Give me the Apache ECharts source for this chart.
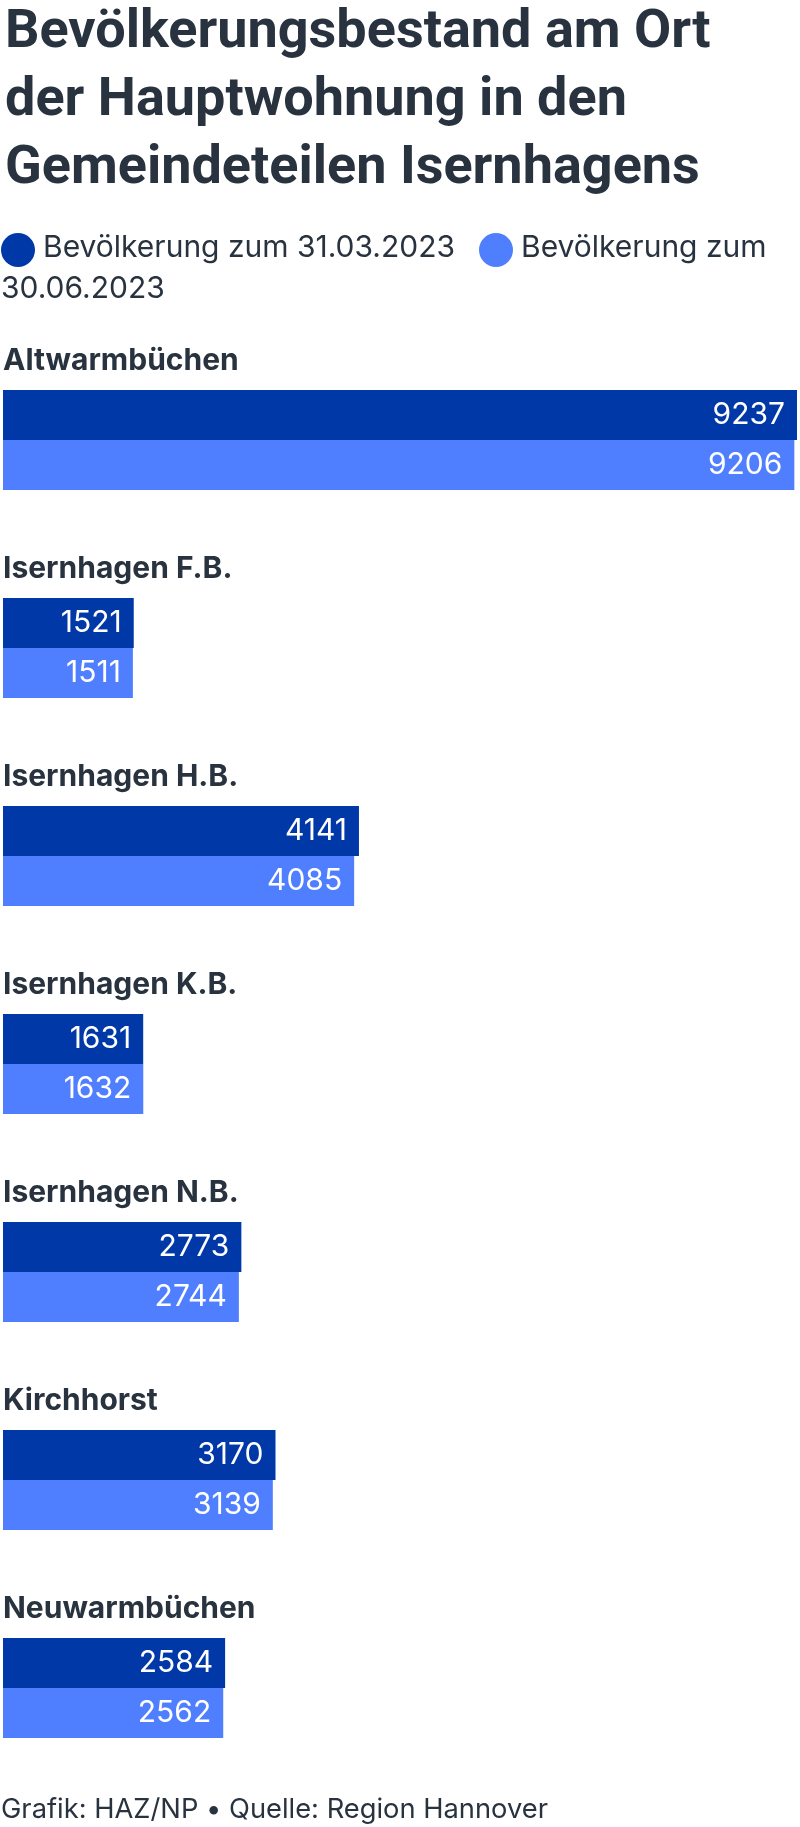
<!DOCTYPE html>
<html>
<head>
<meta charset="utf-8">
<script src="https://cdn.jsdelivr.net/npm/echarts@6/dist/echarts.min.js"></script>
<style>
html,body{margin:0;padding:0;background:#fff;}
#chart{width:800px;height:1827px;}
</style>
</head>
<body>
<div id="chart"></div>
<script>
const categories = ['Altwarmbüchen','Isernhagen F.B.','Isernhagen H.B.','Isernhagen K.B.','Isernhagen N.B.','Kirchhorst','Neuwarmbüchen'];
const seriesNames = ['Bevölkerung zum 31.03.2023','Bevölkerung zum 30.06.2023'];
const values0331 = [9237,1521,4141,1631,2773,3170,2584];
const values0630 = [9206,1511,4085,1632,2744,3139,2562];
const titleLines = ['Bevölkerungsbestand am Ort','der Hauptwohnung in den','Gemeindeteilen Isernhagens'];
const footerText = 'Grafik: HAZ/NP • Quelle: Region Hannover';

const DARK = '#0038a8';
const LIGHT = '#4f7fff';
const TEXT = '#28333f';

const chart = echarts.init(document.getElementById('chart'), null, {renderer:'canvas'});
chart.setOption({
  backgroundColor:'#fff',
  animation:false,
  title:{
    text: titleLines.join('\n'),
    left: 0, top: -6,
    textStyle:{fontFamily:'Roboto', fontWeight:'bold', fontSize:54, lineHeight:68, color:TEXT}
  },
  graphic:[
    {type:'circle', shape:{cx:18, cy:250, r:17}, style:{fill:DARK}},
    {type:'text', left:43, top:233, style:{text:seriesNames[0], font:'30px Inter', fill:TEXT}},
    {type:'circle', shape:{cx:496, cy:250, r:17}, style:{fill:LIGHT}},
    {type:'text', left:521, top:233, style:{text:'Bevölkerung zum', font:'30px Inter', fill:TEXT}},
    {type:'text', left:1, top:274, style:{text:'30.06.2023', font:'30px Inter', fill:TEXT}},
    {type:'text', left:1, top:1796, style:{text:footerText, font:'27.3px Inter', fill:TEXT}}
  ],
  grid:{left:3, right:3, top:336, height:1456, containLabel:false},
  xAxis:{type:'value', min:0, max:9237, show:false},
  yAxis:{
    type:'category', inverse:true, data:categories,
    axisLine:{show:false}, axisTick:{show:false}, splitLine:{show:false},
    axisLabel:{
      inside:true, margin:0, align:'left', verticalAlign:'bottom',
      fontFamily:'Inter', fontWeight:'bold', fontSize:30, lineHeight:32,
      color:TEXT, padding:[0,0,63,0]
    },
    z:10
  },
  series:[
    {name:seriesNames[0], type:'bar', data:values0331, barWidth:50, barGap:'0%',
     itemStyle:{color:DARK},
     label:{show:true, position:'insideRight', distance:12, color:'#fff', fontFamily:'Inter', fontSize:30}},
    {name:seriesNames[1], type:'bar', data:values0630, barWidth:50, barGap:'0%',
     itemStyle:{color:LIGHT},
     label:{show:true, position:'insideRight', distance:12, color:'#fff', fontFamily:'Inter', fontSize:30}}
  ]
});
</script>
</body>
</html>
